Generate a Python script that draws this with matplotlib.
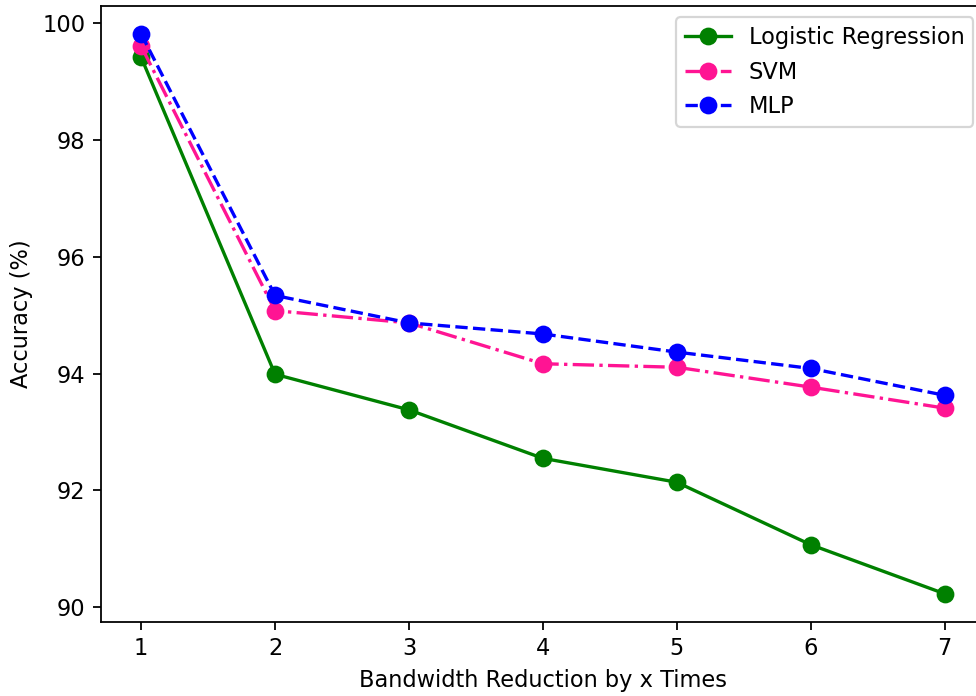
import matplotlib
matplotlib.use('Agg')
import matplotlib.pyplot as plt

# bandwidth reduction factor
reduction = [1, 2, 3, 4, 5, 6, 7]

acc_logreg = [99.42, 93.99, 93.38, 92.55, 92.14, 91.07, 90.23]
acc_svm = [99.61, 95.08, 94.87, 94.17, 94.11, 93.77, 93.41]
acc_mlp = [99.82, 95.34, 94.87, 94.68, 94.37, 94.09, 93.63]

DPI = 160
plt.rcParams['font.size'] = 10.15
fig = plt.figure(figsize=(976 / DPI, 696 / DPI), dpi=DPI)
ax = fig.add_axes([101 / 976, 1 - 621.7 / 696, 883.7 / 976, 615.7 / 696])

ax.plot(reduction, acc_logreg, '-o', color='green', markersize=7, label='Logistic Regression')
ax.plot(reduction, acc_svm, '-.o', color='deeppink', markersize=7, label='SVM')
ax.plot(reduction, acc_mlp, '--o', color='blue', markersize=7, label='MLP')

ax.set_xlabel('Bandwidth Reduction by x Times')
ax.set_ylabel('Accuracy (%)')
ax.set_xticks(reduction)
ax.set_yticks([90, 92, 94, 96, 98, 100])
ax.legend(loc='upper right')

fig.savefig('out.png', dpi=DPI)
